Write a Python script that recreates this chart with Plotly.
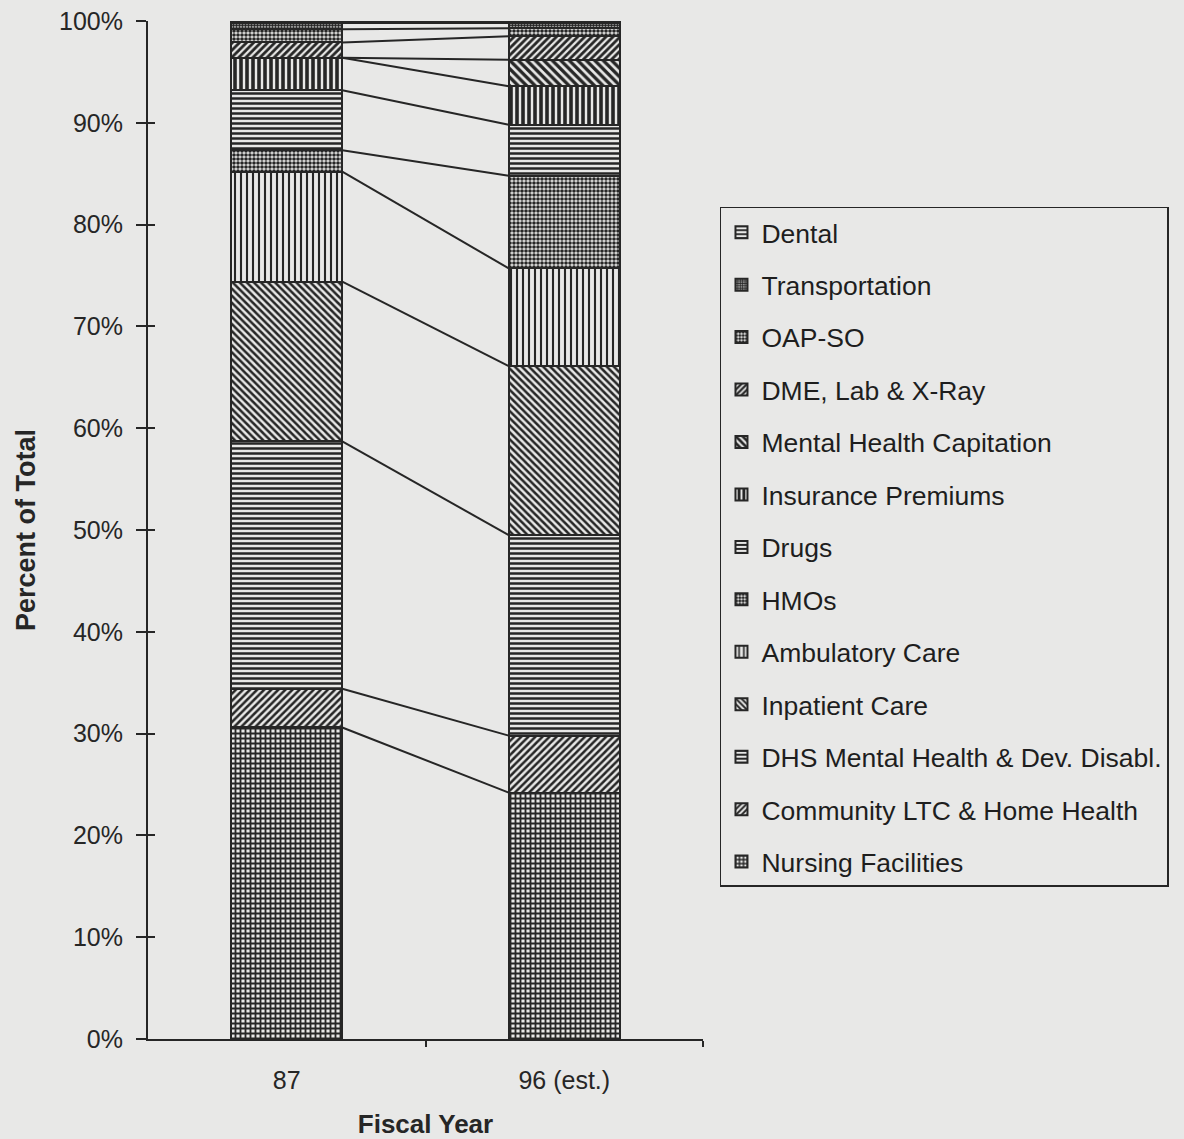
import numpy as np
import plotly.graph_objects as go

# Fiscal years shown on the horizontal axis
years = ["87", "96 (est.)"]

# Spending categories, listed from the bottom of each stack to the top
categories = [
    "Nursing Facilities",
    "Community LTC & Home Health",
    "DHS Mental Health & Dev. Disabl.",
    "Inpatient Care",
    "Ambulatory Care",
    "HMOs",
    "Drugs",
    "Insurance Premiums",
    "Mental Health Capitation",
    "DME, Lab & X-Ray",
    "OAP-SO",
    "Transportation",
    "Dental",
]

# Percent of total expenditure per category
share_87 = [30.6, 3.8, 24.3, 15.7, 10.8, 2.1, 5.9, 3.2, 0.0, 1.5, 1.3, 0.6, 0.2]
share_96 = [24.2, 5.6, 19.7, 16.6, 9.6, 9.1, 5.0, 3.8, 2.6, 2.3, 0.8, 0.5, 0.2]

y_ticks = list(range(0, 101, 10))
y_tick_text = [f"{v}%" for v in y_ticks]

# Fill patterns for each category (same order as categories)
patterns = [
    dict(shape="+", size=5, solidity=0.6),
    dict(shape="/", size=5, solidity=0.5),
    dict(shape="-", size=5, solidity=0.5),
    dict(shape="\\", size=5, solidity=0.5),
    dict(shape="|", size=6, solidity=0.35),
    dict(shape=".", size=4, solidity=0.65),
    dict(shape="-", size=5, solidity=0.5),
    dict(shape="|", size=6, solidity=0.6),
    dict(shape="\\", size=6, solidity=0.55),
    dict(shape="/", size=5, solidity=0.55),
    dict(shape=".", size=4, solidity=0.65),
    dict(shape=".", size=3, solidity=0.75),
    dict(shape="-", size=5, solidity=0.45),
]

INK = "#262626"
PAPER = "#e8e8e7"
FONT = "Liberation Sans, Arial, sans-serif"
BAR_W = 0.4
x_pos = [0, 1]

fig = go.Figure()

n = len(categories)
for i, name in enumerate(categories):
    fig.add_trace(
        go.Bar(
            x=x_pos,
            y=[share_87[i], share_96[i]],
            name=name,
            width=BAR_W,
            legendgroup=name,
            legendrank=n - i,  # top of the stack listed first
            marker=dict(
                color=PAPER,
                line=dict(color=INK, width=2),
                pattern=dict(fgcolor=INK, bgcolor=PAPER, fillmode="replace",
                             **patterns[i]),
            ),
            hovertemplate="%{y:.1f}%<extra>" + name + "</extra>",
        )
    )

# Lines joining matching segment boundaries of the two stacks
top_87 = np.cumsum(share_87)
top_96 = np.cumsum(share_96)
lx, ly = [], []
for a, b in zip(top_87, top_96):
    lx += [x_pos[0] + BAR_W / 2, x_pos[1] - BAR_W / 2, None]
    ly += [a, b, None]
fig.add_trace(
    go.Scatter(x=lx, y=ly, mode="lines", line=dict(color=INK, width=2),
               showlegend=False, hoverinfo="skip")
)

# Companion axis used only to draw the inner half of the crossing y ticks
fig.add_trace(go.Scatter(x=[None], y=[None], yaxis="y2", showlegend=False,
                         hoverinfo="skip"))

fig.update_layout(
    width=1184,
    height=1139,
    barmode="stack",
    paper_bgcolor=PAPER,
    plot_bgcolor=PAPER,
    font=dict(family=FONT, color=INK, size=25),
    margin=dict(l=148, r=481, t=21, b=100),
    showlegend=True,
    legend=dict(
        x=1.0306, xanchor="left", y=0.8173, yanchor="top",
        traceorder="grouped",
        tracegroupgap=15,
        font=dict(family=FONT, size=26.5, color="#1e1e1e"),
        bgcolor=PAPER,
        bordercolor=INK,
        borderwidth=1.5,
    ),
    xaxis=dict(
        range=[-0.5, 1.5],
        tickvals=x_pos,
        ticktext=years,
        ticks="",
        ticklabelstandoff=18,
        automargin=False,
        showline=True, linecolor=INK, linewidth=2,
        showgrid=False, zeroline=False,
        minor=dict(tickvals=[0.5, 1.5], ticks="outside", ticklen=6,
                   tickcolor=INK, tickwidth=1.5, showgrid=False),
        title=dict(text="<b>Fiscal Year</b>", font=dict(size=26), standoff=32),
        fixedrange=True,
    ),
    yaxis=dict(
        range=[0, 100],
        tickvals=y_ticks,
        ticktext=y_tick_text,
        ticks="outside", ticklen=10, tickwidth=1.5, tickcolor=INK,
        ticklabelstandoff=8,
        automargin=False,
        showline=True, linecolor=INK, linewidth=2,
        showgrid=False, zeroline=False,
        title=dict(text="<b>Percent of Total</b>", font=dict(size=27), standoff=16),
        fixedrange=True,
    ),
    yaxis2=dict(
        range=[0, 100], overlaying="y", side="left",
        tickvals=y_ticks, ticks="inside", ticklen=7, tickwidth=1.5,
        tickcolor=INK, showticklabels=False, showline=False,
        showgrid=False, zeroline=False, fixedrange=True, automargin=False,
    ),
)

fig.write_html("out.html")
